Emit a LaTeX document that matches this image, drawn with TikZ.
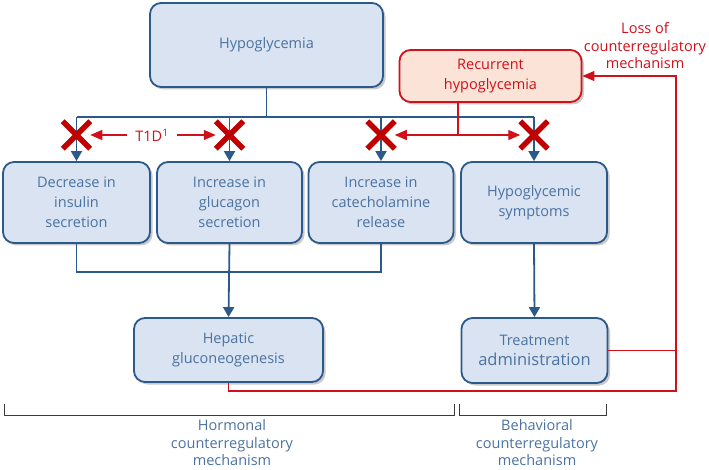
\documentclass[tikz,border=0pt]{standalone}
\usepackage{fontspec}
\setmainfont{Open Sans}
\usetikzlibrary{arrows.meta,shadows,shapes.misc}

\definecolor{boxblue}{HTML}{2B5A8A}
\definecolor{boxfill}{HTML}{D9E3F2}
\definecolor{txtblue}{HTML}{4B72A0}
\definecolor{alarmred}{HTML}{D0101A}
\definecolor{recfill}{HTML}{FBE3D7}
\definecolor{xred}{HTML}{C00000}
\definecolor{brackgray}{HTML}{3A3A3A}

\tikzset{
  stepbox/.style={draw=boxblue, line width=1.8pt, fill=boxfill, rounded corners=11pt,
    text=txtblue, align=center, font=\fontsize{14.5}{20}\selectfont,
    drop shadow={shadow xshift=2.5pt, shadow yshift=-2.5pt, opacity=0.35, fill=black!60}},
  recbox/.style={stepbox, draw=alarmred, fill=recfill, text=alarmred},
  bline/.style={draw=boxblue, line width=1.8pt},
  barrow/.style={bline, -{Triangle[width=11pt,length=10pt]}},
  rline/.style={draw=alarmred, line width=1.2pt},
  rarrow/.style={rline, -{Triangle[width=10pt,length=12pt]}},
  xmark/.style={cross out, draw=xred, line width=5.5pt, minimum size=22pt, inner sep=0pt},
  lbl/.style={text=txtblue, align=center, font=\fontsize{14.5}{17.5}\selectfont},
  redlbl/.style={lbl, text=alarmred},
  brace/.style={draw=brackgray, line width=0.9pt}
}

\begin{document}
\begin{tikzpicture}[x=1pt,y=-1pt]
  \useasboundingbox (0,0) rectangle (709,470);

  % boxes
  \node[stepbox, minimum width=233pt, minimum height=84pt] (hypo) at (266.5,45) {Hypoglycemia};
  \node[recbox, minimum width=182pt, minimum height=52pt] (recur) at (490.5,76) {Recurrent\\hypoglycemia};
  \node[stepbox, minimum width=147pt, minimum height=81pt] (dec) at (76.5,202.5) {Decrease in\\insulin\\secretion};
  \node[stepbox, minimum width=145pt, minimum height=81pt] (glu) at (229.5,202.5) {Increase in\\glucagon\\secretion};
  \node[stepbox, minimum width=145pt, minimum height=81pt] (cat) at (381,202.5) {Increase in\\catecholamine\\release};
  \node[stepbox, minimum width=146pt, minimum height=81pt] (sym) at (534,202.5) {Hypoglycemic\\symptoms};
  \node[stepbox, minimum width=189pt, minimum height=64pt] (hep) at (228.5,350) {Hepatic\\gluconeogenesis};
  \node[stepbox, minimum width=146pt, minimum height=65pt] (treat) at (534.5,350.5)
    {Treatment\\{\fontsize{16.5}{20}\selectfont administration}};

  % blue connectors
  \coordinate (bus) at (266.5,117);
  \coordinate (hbus) at (229.5,272);
  \draw[bline] (hypo.south) -- (bus);
  \draw[bline] (dec.north |- bus) -- (sym.north |- bus);
  \foreach \b in {dec,glu,cat,sym}
    \draw[barrow] (\b.north |- bus) -- (\b.north);
  \draw[bline] (dec.south) |- (hbus) -| (cat.south);
  \draw[barrow] (glu.south) -- (hep.north);
  \draw[barrow] (sym.south) -- (treat.north);

  % red crosses
  \node[xmark] (xa) at (76.5,135) {};
  \node[xmark] (xb) at (229.5,135) {};
  \node[xmark] (xc) at (381,135) {};
  \node[xmark] (xd) at (534,135) {};

  % T1D
  \node[redlbl, inner sep=8pt] (t1d) at (152,135) {T1D\textsuperscript{1}};
  \draw[rarrow] (t1d.west) -- (xa.east);
  \draw[rarrow] (t1d.east) -- (xb.west);

  % recurrent hypoglycemia
  \coordinate (rj) at (458,135);
  \draw[rline] (recur.south -| rj) -- (rj);
  \draw[rarrow] (rj) -- (xc.east);
  \draw[rarrow] (rj) -- (xd.west);

  % feedback loop
  \coordinate (rc) at (676,391);
  \draw[rline] (treat.east) -- (treat.east -| rc);
  \draw[rarrow] (hep.south) |- (rc) |- (recur.east);
  \node[redlbl] (loss) at (645,46) {Loss of\\counterregulatory\\mechanism};

  % brackets
  \draw[brace] (4,404) -- (4,415) -- (454,415) -- (454,404);
  \draw[brace] (459,404) -- (459,415) -- (606,415) -- (606,404);
  \node[lbl] (horm) at (232,443) {Hormonal\\counterregulatory\\mechanism};
  \node[lbl] (behav) at (537,443) {Behavioral\\counterregulatory\\mechanism};
\end{tikzpicture}
\end{document}
